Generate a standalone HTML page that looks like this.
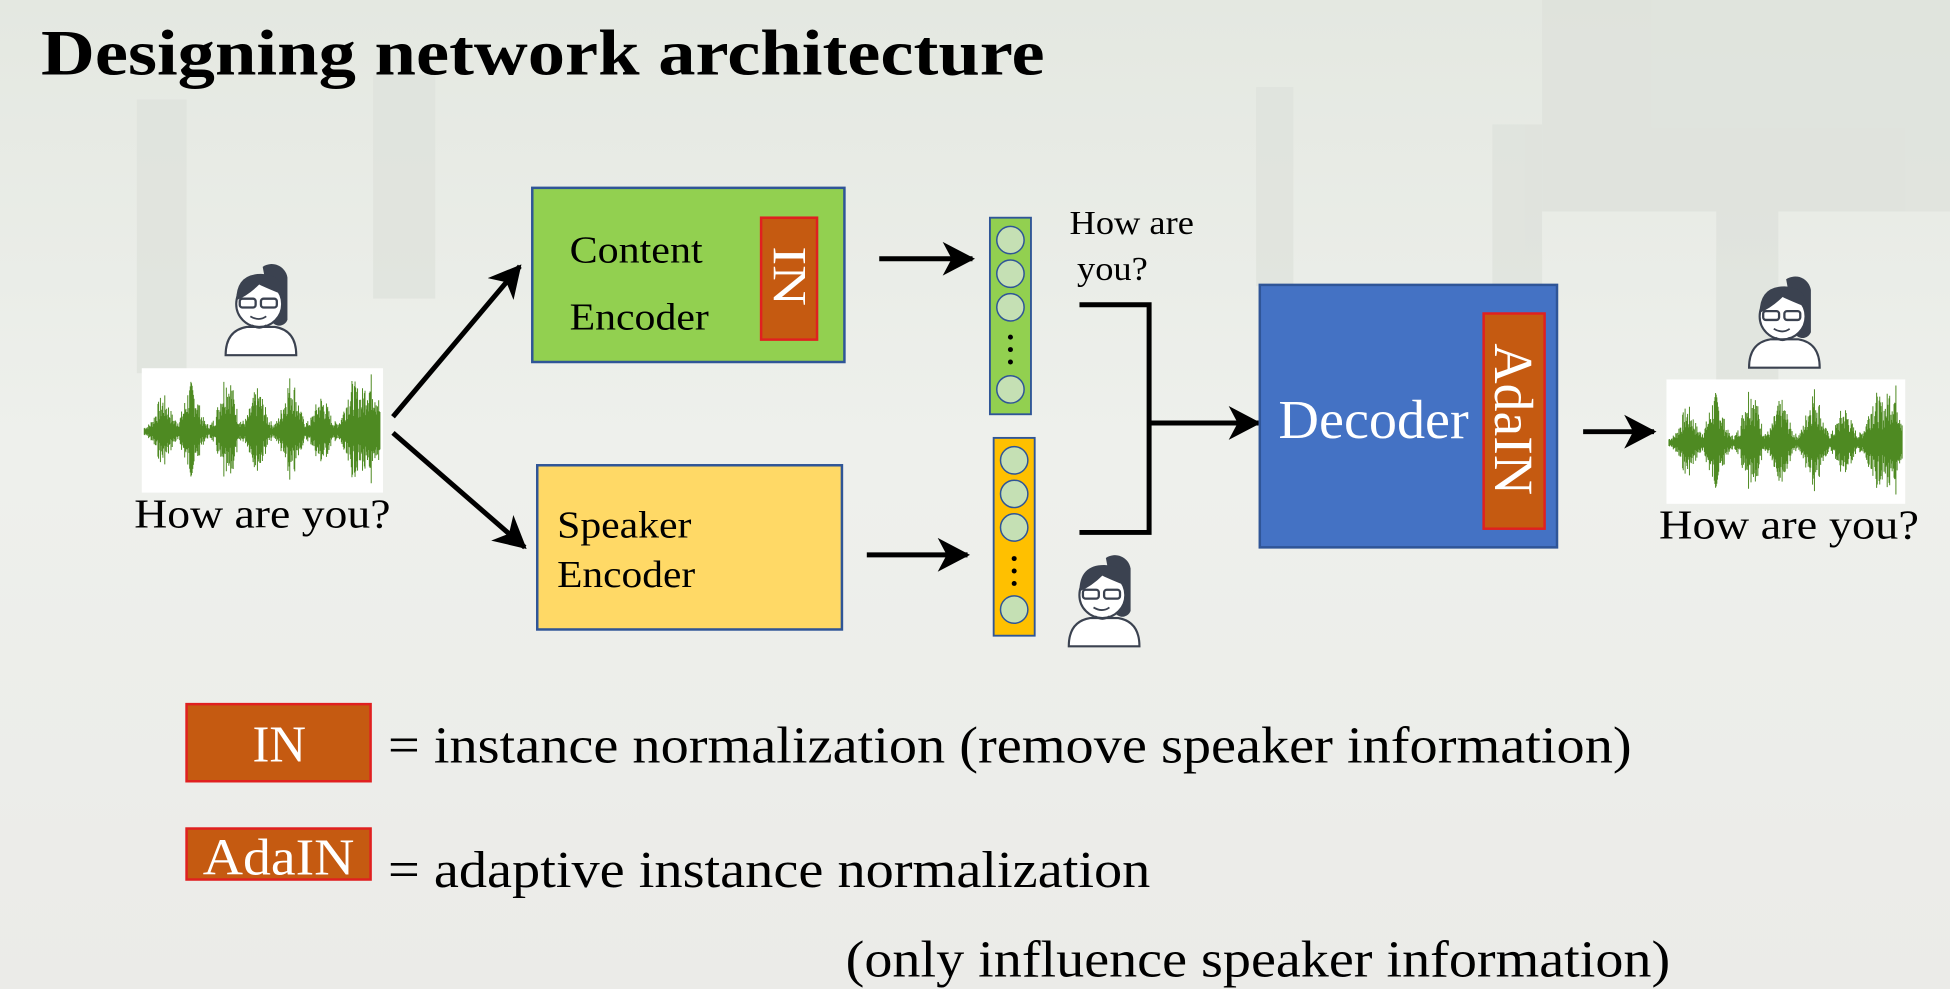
<!DOCTYPE html>
<html><head><meta charset="utf-8"><style>
html,body{margin:0;padding:0;width:1950px;height:989px;overflow:hidden;background:#eceee9;}
svg{display:block}
text{font-family:"Liberation Serif",serif;}
</style></head><body>
<svg id="s" width="1950" height="989" viewBox="0 0 1568 795" preserveAspectRatio="none" xmlns="http://www.w3.org/2000/svg">
<defs>
<linearGradient id="bg" x1="0" y1="0" x2="0" y2="1">
<stop offset="0" stop-color="#e4e8e1"/><stop offset="0.45" stop-color="#eef0ec"/><stop offset="1" stop-color="#ebebe8"/>
</linearGradient>
<marker id="ah" markerWidth="8" markerHeight="8" refX="6" refY="4" orient="auto" markerUnits="strokeWidth">
<path d="M0,0.6 L6.5,4 L0,7.4 L1.8,4 Z" fill="#000"/></marker>
<g id="p0">
<path d="M22,6 a9,9 0 0 1 14,6 v24 a5,5 0 0 1 -8,2 Z" fill="#3b4250"/>
<path d="M1,56 q0,-14 12,-16 h16 q12,2 12,16 Z" fill="#fff" stroke="#3b4250" stroke-width="1.2"/>
<circle cx="20" cy="27" r="13" fill="#fff" stroke="#3b4250" stroke-width="1.2"/>
<path d="M7,25 q0,-15 14,-15 q12,0 13,12 q-10,-4 -14,-6 q-6,6 -13,9 Z" fill="#3b4250"/>
<rect x="9" y="24" width="9" height="5" rx="1.5" fill="none" stroke="#3b4250" stroke-width="1.3"/>
<rect x="21" y="24" width="9" height="5" rx="1.5" fill="none" stroke="#3b4250" stroke-width="1.3"/>
<path d="M15,34 q5,3 9,0" fill="none" stroke="#3b4250" stroke-width="1"/>
<path d="M16,39 q4,3 8,0" fill="none" stroke="#3b4250" stroke-width="1"/>
</g>
<g id="person"><use href="#p0" transform="scale(1.42)"/></g>
</defs>
<rect width="1568" height="795" fill="url(#bg)"/>
<g fill="#dfe2dc" opacity="0.8">
<rect x="110" y="80" width="40" height="220"/><rect x="300" y="60" width="50" height="180"/>
<rect x="1010" y="70" width="30" height="160"/><rect x="1200" y="100" width="40" height="200"/>
<rect x="1380" y="150" width="50" height="240"/><rect x="1240" y="0" width="328" height="170"/>
</g>
<text x="33" y="60" font-size="52" font-weight="bold" textLength="807" lengthAdjust="spacingAndGlyphs">Designing network architecture</text>

<use href="#person" x="180" y="206"/>
<rect x="114" y="296" width="194" height="100" fill="#fff"/>
<path id="w1" stroke="#4e8a22" stroke-width="0.8" fill="none"/>
<text x="108" y="424" font-size="33" textLength="206" lengthAdjust="spacingAndGlyphs">How are you?</text>

<line x1="316" y1="335" x2="418" y2="214" stroke="#000" stroke-width="4" marker-end="url(#ah)"/>
<line x1="316" y1="348" x2="422" y2="440" stroke="#000" stroke-width="4" marker-end="url(#ah)"/>

<rect x="428" y="151" width="251" height="140" fill="#92d050" stroke="#2f5597" stroke-width="2"/>
<text x="458" y="211" font-size="31" textLength="107" lengthAdjust="spacingAndGlyphs">Content</text>
<text x="458" y="265" font-size="31" textLength="112" lengthAdjust="spacingAndGlyphs">Encoder</text>
<rect x="612" y="175" width="45" height="98" fill="#c55a11" stroke="#e02020" stroke-width="2"/>
<text x="0" y="0" font-size="38" fill="#fff" transform="translate(622,198) rotate(90)" textLength="48" lengthAdjust="spacingAndGlyphs">IN</text>

<rect x="432" y="374" width="245" height="132" fill="#ffd966" stroke="#2f5597" stroke-width="2"/>
<text x="448" y="432" font-size="31" textLength="108" lengthAdjust="spacingAndGlyphs">Speaker</text>
<text x="448" y="472" font-size="31" textLength="111" lengthAdjust="spacingAndGlyphs">Encoder</text>

<line x1="707" y1="208" x2="782" y2="208" stroke="#000" stroke-width="4" marker-end="url(#ah)"/>
<line x1="697" y1="446" x2="778" y2="446" stroke="#000" stroke-width="4" marker-end="url(#ah)"/>

<rect x="796" y="175" width="33" height="158" fill="#92d050" stroke="#2f5597" stroke-width="1.5"/>
<g fill="#c5e0b4" stroke="#2f5597" stroke-width="1.2">
<circle cx="812.5" cy="193" r="11"/><circle cx="812.5" cy="220" r="11"/><circle cx="812.5" cy="247" r="11"/><circle cx="812.5" cy="313" r="11"/></g>
<g fill="#000"><circle cx="812.5" cy="271" r="2"/><circle cx="812.5" cy="281" r="2"/><circle cx="812.5" cy="291" r="2"/></g>
<rect x="799" y="352" width="33" height="159" fill="#ffc000" stroke="#2f5597" stroke-width="1.5"/>
<g fill="#c5e0b4" stroke="#2f5597" stroke-width="1.2">
<circle cx="815.5" cy="370" r="11"/><circle cx="815.5" cy="397" r="11"/><circle cx="815.5" cy="424" r="11"/><circle cx="815.5" cy="490" r="11"/></g>
<g fill="#000"><circle cx="815.5" cy="449" r="2"/><circle cx="815.5" cy="459" r="2"/><circle cx="815.5" cy="469" r="2"/></g>

<text x="860" y="188" font-size="27" textLength="100" lengthAdjust="spacingAndGlyphs">How are</text>
<text x="866" y="225" font-size="27" textLength="57" lengthAdjust="spacingAndGlyphs">you?</text>
<use href="#person" x="858" y="440"/>

<path d="M868,245 H924 V428 H868" fill="none" stroke="#000" stroke-width="4"/>
<line x1="924" y1="340" x2="1012" y2="340" stroke="#000" stroke-width="4" marker-end="url(#ah)"/>

<rect x="1013" y="229" width="239" height="211" fill="#4472c4" stroke="#2f5597" stroke-width="2"/>
<text x="1028" y="352" font-size="44" fill="#fff" textLength="153" lengthAdjust="spacingAndGlyphs">Decoder</text>
<rect x="1193" y="252" width="49" height="173" fill="#c55a11" stroke="#e02020" stroke-width="2"/>
<text x="0" y="0" font-size="44" fill="#fff" transform="translate(1202,276) rotate(90)" textLength="122" lengthAdjust="spacingAndGlyphs">AdaIN</text>

<line x1="1273" y1="347" x2="1330" y2="347" stroke="#000" stroke-width="4" marker-end="url(#ah)"/>

<use href="#person" x="1405" y="216"/>
<rect x="1340" y="305" width="192" height="100" fill="#fff"/>
<path id="w2" stroke="#4e8a22" stroke-width="0.8" fill="none"/>
<text x="1334" y="433" font-size="33" textLength="209" lengthAdjust="spacingAndGlyphs">How are you?</text>

<rect x="150" y="566" width="148" height="62" fill="#c55a11" stroke="#e02020" stroke-width="2"/>
<text x="203" y="612" font-size="42" fill="#fff" textLength="43" lengthAdjust="spacingAndGlyphs">IN</text>
<text x="312" y="613" font-size="42" textLength="1000" lengthAdjust="spacingAndGlyphs">= instance normalization (remove speaker information)</text>
<rect x="150" y="666" width="148" height="41" fill="#c55a11" stroke="#e02020" stroke-width="2"/>
<text x="163" y="703" font-size="42" fill="#fff" textLength="122" lengthAdjust="spacingAndGlyphs">AdaIN</text>
<text x="312" y="713" font-size="42" textLength="613" lengthAdjust="spacingAndGlyphs">= adaptive instance normalization</text>
<text x="680" y="785" font-size="42" textLength="663" lengthAdjust="spacingAndGlyphs">(only influence speaker information)</text>
</svg>
<script>
function wave(id,x0,x1,cy,h){
  var d="",seed=7;
  function r(){seed=(seed*9301+49297)%233280;return seed/233280;}
  var bursts=[0.08,0.2,0.35,0.48,0.62,0.75,0.88,0.96];
  for(var x=x0;x<x1;x+=0.5){
    var t=(x-x0)/(x1-x0),a=0.08;
    for(var i=0;i<bursts.length;i++){var dd=(t-bursts[i])/0.04;a+=Math.exp(-dd*dd)*(0.55+0.45*((i*37)%5)/4);}
    var amp=h*Math.min(1,a)*(0.3+0.7*r());
    d+="M"+x.toFixed(1)+","+(cy-amp).toFixed(1)+"V"+(cy+amp*0.9).toFixed(1);
  }
  document.getElementById(id).setAttribute("d",d);
}
wave("w1",116,306,347,48);
wave("w2",1342,1530,356,48);
</script>
</body></html>
